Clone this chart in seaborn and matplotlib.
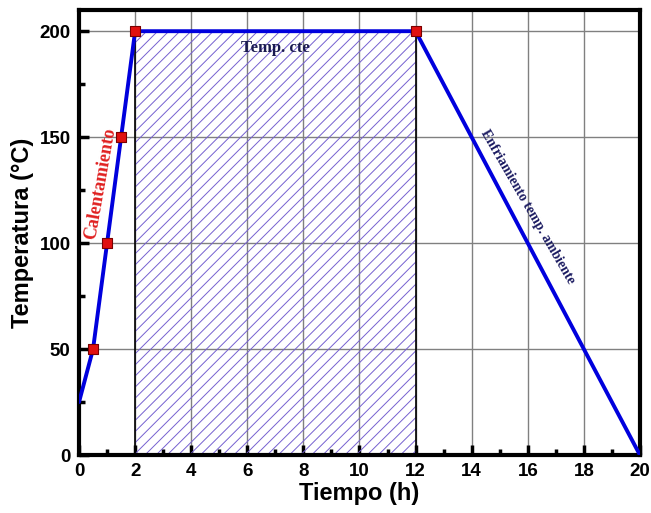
import matplotlib
matplotlib.use("Agg")
import matplotlib.pyplot as plt
import seaborn as sns
import numpy as np
import pandas as pd

# Data
tiempo = [0, 0.5, 1, 1.5, 2, 12, 20]
temperatura = [25, 50, 100, 150, 200, 200, 0]
marker_tiempo = [0.5, 1, 1.5, 2, 12]
marker_temp = [50, 100, 150, 200, 200]
meseta_x = [2, 12]
meseta_y = [200, 200]
xticks = [0, 2, 4, 6, 8, 10, 12, 14, 16, 18, 20]
yticks = [0, 50, 100, 150, 200]

sns.set_style("white")
plt.rcParams['hatch.color'] = '#7560d0'
plt.rcParams['hatch.linewidth'] = 0.7
plt.rcParams['text.color'] = 'black'
plt.rcParams['axes.labelcolor'] = 'black'
plt.rcParams['xtick.color'] = 'black'
plt.rcParams['ytick.color'] = 'black'

fig = plt.figure(figsize=(6.51, 5.13), dpi=100)
ax = fig.add_axes([0.1214, 0.113, 0.8616, 0.8675])

# hatched region
ax.fill_between(meseta_x, [0, 0], meseta_y, facecolor='none', edgecolor='#7560d0',
                hatch='///', linewidth=0, zorder=1)
for xv in meseta_x:
    ax.plot([xv, xv], [0, 200], color='black', lw=1.2, zorder=2)

df = pd.DataFrame({'t': tiempo, 'T': temperatura})
sns.lineplot(data=df, x='t', y='T', sort=False, color='#0000dd', lw=2.8, ax=ax, zorder=3)
dm = pd.DataFrame({'t': marker_tiempo, 'T': marker_temp})
sns.scatterplot(data=dm, x='t', y='T', marker='s', s=50, color='#e01010',
                edgecolor='#7a0000', linewidth=0.8, ax=ax, zorder=4)

ax.set_xlim(0, 20)
ax.set_ylim(0, 210)
ax.set_xticks(xticks)
ax.set_yticks(yticks)
ax.set_xticks(np.arange(1, 20, 2), minor=True)
ax.set_yticks(np.arange(25, 210, 50), minor=True)
ax.grid(True, which='major', color='#808080', lw=1.0, zorder=0)
ax.set_axisbelow(True)

for s in ax.spines.values():
    s.set_linewidth(3)
    s.set_color('black')

ax.tick_params(which='major', direction='in', length=7, width=2.5, labelsize=13.5,
               pad=6, bottom=True, left=True, top=False, right=False, colors='black')
ax.tick_params(which='minor', direction='in', length=4, width=2.5,
               bottom=True, left=True, top=False, right=False, colors='black')
for lab in ax.get_xticklabels() + ax.get_yticklabels():
    lab.set_fontweight('bold')
    lab.set_family('Liberation Sans')
    lab.set_color('black')

ax.set_xlabel('Tiempo (h)', fontsize=17, fontweight='bold', family='Liberation Sans',
              labelpad=1, color='black')
ax.set_ylabel('Temperatura (°C)', fontsize=17, fontweight='bold', family='Liberation Sans',
              labelpad=4, color='black')

ax.text(0.75, 128, 'Calentamiento', color='#e02020', rotation=80, fontsize=13,
        fontweight='bold', family='Liberation Serif', ha='center', va='center')
ax.text(7.0, 192, 'Temp. cte', color='#1a1a50', fontsize=12, fontweight='bold',
        family='Liberation Serif', ha='center', va='center')
ax.text(16.0, 117, 'Enfriamiento temp. ambiente', color='#1a1a60', rotation=-60, fontsize=10,
        fontweight='bold', family='Liberation Serif', ha='center', va='center')

fig.savefig('out.png', dpi=100)
